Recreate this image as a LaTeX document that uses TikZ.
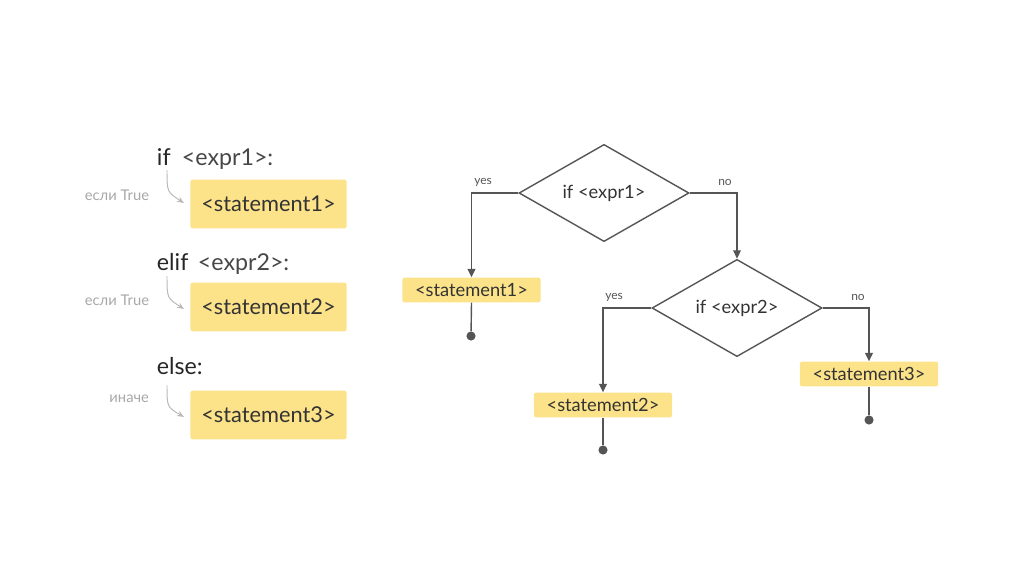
\documentclass[tikz,border=0pt]{standalone}
\usepackage{fontspec}
\setmainfont{Lato}
\usetikzlibrary{shapes.geometric,arrows.meta}
\definecolor{stmtyellow}{HTML}{FCE38A}
\definecolor{linegray}{HTML}{555555}
\definecolor{textgray}{HTML}{333333}
\definecolor{hintgray}{HTML}{A8A8A8}

\begin{document}
\begin{tikzpicture}[x=0.025cm, y=-0.025cm,
   stmt/.style={fill=stmtyellow, rounded corners=1.5pt, inner sep=0pt, text=textgray},
   cond/.style={diamond, draw=linegray, line width=1pt, aspect=1.75, inner sep=0pt,
                minimum width=4.25cm, minimum height=2.43cm, text=textgray, font=\fontsize{13}{15}\selectfont},
   flow/.style={draw=linegray, line width=1pt, -{Triangle[length=6pt,width=5.5pt]}},
   tail/.style={draw=linegray, line width=1pt},
   enddot/.style={circle, fill=linegray, inner sep=0pt, minimum size=6.5pt},
   lbl/.style={text=linegray, font=\fontsize{8.5}{10}\selectfont},
   kw/.style={anchor=base west, text=black!85, font=\fontsize{16.5}{19}\selectfont},
   expr/.style={anchor=base west, text=textgray!90, font=\fontsize{16.5}{19}\selectfont},
   hint/.style={anchor=east, text=hintgray, font=\fontsize{10.5}{12}\selectfont},
   hintarrow/.style={draw=hintgray!80, line width=0.7pt, -{Stealth[length=5pt,width=4pt]}}]

   \useasboundingbox (0,0) rectangle (1024,574);

   % left column: the code
   \node[kw]   (kif)   at (152,165) {if};
   \node[expr] (e1)    at (177,165) {<expr1>:};
   \node[stmt, minimum width=3.9cm, minimum height=1.22cm, font=\fontsize{15.5}{18}\selectfont]
               (s1)    at (268.5,204) {<statement1>};
   \node[hint] (h1)    at (154,195) {если True};

   \node[kw]   (kelif) at (152,270) {elif};
   \node[expr] (e2)    at (193,270) {<expr2>:};
   \node[stmt, minimum width=3.9cm, minimum height=1.22cm, font=\fontsize{15.5}{18}\selectfont]
               (s2)    at (268.5,307) {<statement2>};
   \node[hint] (h2)    at (154,300) {если True};

   \node[kw]   (kelse) at (152,374) {else:};
   \node[stmt, minimum width=3.9cm, minimum height=1.22cm, font=\fontsize{15.5}{18}\selectfont]
               (s3)    at (268.5,415) {<statement3>};
   \node[hint] (h3)    at (154,399) {иначе};

   \coordinate (a1) at (167,170);  \coordinate (b1) at (184,203);
   \coordinate (a2) at (167,276);  \coordinate (b2) at (184,309);
   \coordinate (a3) at (167,385);  \coordinate (b3) at (184,417);
   \draw[hintarrow] (a1) .. controls (167,192) .. (b1);
   \draw[hintarrow] (a2) .. controls (167,298) .. (b2);
   \draw[hintarrow] (a3) .. controls (167,407) .. (b3);

   % right column: the flowchart
   \node[cond] (c1) at (604,193) {if <expr1>};
   \node[cond] (c2) at (737,308) {if <expr2>};

   \node[stmt, minimum width=3.45cm, minimum height=0.62cm, font=\fontsize{13}{15}\selectfont]
         (f1) at (471.5,290) {<statement1>};
   \node[stmt, minimum width=3.45cm, minimum height=0.62cm, font=\fontsize{13}{15}\selectfont]
         (f2) at (603,405) {<statement2>};
   \node[stmt, minimum width=3.45cm, minimum height=0.62cm, font=\fontsize{13}{15}\selectfont]
         (f3) at (869,374) {<statement3>};

   \node[enddot] (d1) at (471,336) {};
   \node[enddot] (d2) at (603,450) {};
   \node[enddot] (d3) at (869,420) {};

   \draw[flow] (c1.west) -| (f1.north);
   \draw[flow] (c1.east) -| (c2.north);
   \draw[flow] (c2.west) -| (f2.north);
   \draw[flow] (c2.east) -| (f3.north);

   \draw[tail] (f1.south) -- (d1);
   \draw[tail] (f2.south) -- (d2);
   \draw[tail] (f3.south) -- (d3);

   \node[lbl] (y1) at (483,182) {yes};
   \node[lbl] (n1) at (725,182) {no};
   \node[lbl] (y2) at (614,297) {yes};
   \node[lbl] (n2) at (858,297) {no};
\end{tikzpicture}
\end{document}
